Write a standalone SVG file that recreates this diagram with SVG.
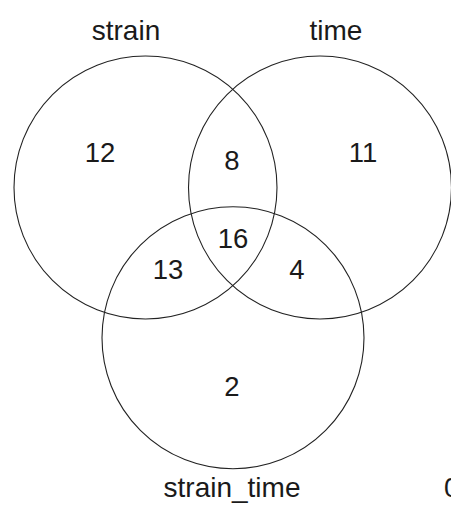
<svg xmlns="http://www.w3.org/2000/svg" width="451" height="511" viewBox="0 0 451 511">
<style>
.set{fill:none;stroke:#222;stroke-width:1.1}
.lbl{font-family:"Liberation Sans",Arial,sans-serif;font-size:28px;fill:#1a1a1a;text-anchor:middle}
.num{font-family:"Liberation Sans",Arial,sans-serif;font-size:27.5px;fill:#1a1a1a;text-anchor:middle}
</style>
<rect width="451" height="511" fill="#fff"/>
<g id="strain">
<circle class="set" cx="145.5" cy="187.5" r="131.5"/>
<text class="lbl" x="126" y="40">strain</text>
</g>
<g id="time">
<circle class="set" cx="320" cy="187.5" r="131.5"/>
<text class="lbl" x="336" y="40">time</text>
</g>
<g id="strain_time">
<circle class="set" cx="233" cy="337.8" r="131"/>
<text class="lbl" x="232" y="497">strain_time</text>
</g>
<g id="counts">
<text class="num" x="100" y="162">12</text>
<text class="num" x="232" y="170">8</text>
<text class="num" x="363" y="162">11</text>
<text class="num" x="233" y="248">16</text>
<text class="num" x="168" y="279">13</text>
<text class="num" x="297" y="279">4</text>
<text class="num" x="232" y="396">2</text>
<text class="num" x="444" y="497" style="text-anchor:start">0</text>
</g>
<g id="connectors"/>
</svg>
